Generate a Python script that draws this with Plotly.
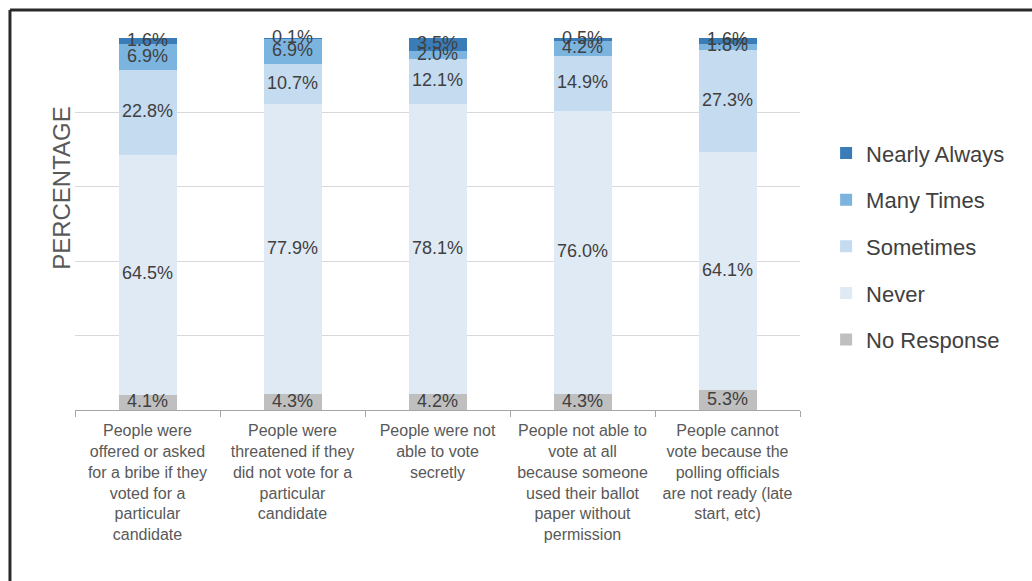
import numpy as np
import plotly.graph_objects as go

categories = [
    "People were<br>offered or asked<br>for a bribe if they<br>voted for a<br>particular<br>candidate",
    "People were<br>threatened if they<br>did not vote for a<br>particular<br>candidate",
    "People were not<br>able to vote<br>secretly",
    "People not able to<br>vote at all<br>because someone<br>used their ballot<br>paper without<br>permission",
    "People cannot<br>vote because the<br>polling officials<br>are not ready (late<br>start, etc)",
]

no_response = [4.1, 4.3, 4.2, 4.3, 5.3]
never = [64.5, 77.9, 78.1, 76.0, 64.1]
sometimes = [22.8, 10.7, 12.1, 14.9, 27.3]
many_times = [6.9, 6.9, 2.0, 4.2, 1.8]
nearly_always = [1.6, 0.1, 3.5, 0.5, 1.6]

series = [
    ("No Response", no_response, "#bfbfbf"),
    ("Never", never, "#e0eaf5"),
    ("Sometimes", sometimes, "#c4dbf0"),
    ("Many Times", many_times, "#7cb4e0"),
    ("Nearly Always", nearly_always, "#3a7cb8"),
]

fig = go.Figure()

base = np.zeros(len(categories))
label_x, label_y, label_t = [], [], []
for i, (name, vals, color) in enumerate(series):
    vals = np.array(vals, dtype=float)
    fig.add_trace(go.Bar(
        x=categories, y=vals, name=name, marker_color=color,
        marker_line_width=0, width=0.4, legendgroup=name,
        legendrank=1000 - i,
    ))
    mids = base + vals / 2
    for c, m, v in zip(categories, mids, vals):
        label_x.append(c)
        label_y.append(m)
        label_t.append(f"{v:.1f}%")
    base = base + vals

# percentage labels centred on each segment
fig.add_trace(go.Scatter(
    x=label_x, y=label_y, text=label_t, mode="text",
    textposition="middle center",
    textfont=dict(family="Liberation Sans, Arial", size=18, color="#404040"),
    showlegend=False, hoverinfo="skip", cliponaxis=False,
))

# frame lines along the top and left edge
frame = dict(color="#2a2a2a", width=3)
fig.add_shape(type="line", xref="paper", yref="paper",
              x0=-0.0897, x1=1.33, y0=1.0753, y1=1.0753, line=frame)
fig.add_shape(type="line", xref="paper", yref="paper",
              x0=-0.0897, x1=-0.0897, y0=1.0753, y1=-0.5, line=frame)

# vertical axis title
fig.add_annotation(
    text="PERCENTAGE", xref="paper", yref="paper", x=-0.018, y=0.597,
    xanchor="center", yanchor="middle", textangle=-90, showarrow=False,
    font=dict(family="Liberation Sans, Arial", size=24, color="#595959"),
)

fig.update_layout(
    barmode="stack",
    width=1032, height=581,
    margin=dict(l=75, r=232, t=38, b=171),
    paper_bgcolor="white", plot_bgcolor="white",
    font=dict(family="Liberation Sans, Arial", color="#595959"),
    legend=dict(
        traceorder="grouped", x=1.036, xanchor="left", y=0.44, yanchor="middle",
        font=dict(size=22, color="#404040"), tracegroupgap=15,
        itemwidth=30, bgcolor="rgba(0,0,0,0)",
    ),
    xaxis=dict(
        type="category", showline=True, linecolor="#a6a6a6", linewidth=1,
        ticks="outside", tickson="boundaries", ticklen=6, tickcolor="#a6a6a6",
        tickfont=dict(size=16, color="#595959"), showgrid=False,
        ticklabelstandoff=6, range=[-0.5, 4.5],
    ),
    yaxis=dict(
        range=[0, 100], dtick=20, showticklabels=False, showgrid=True,
        gridcolor="#d9d9d9", gridwidth=1, zeroline=False, showline=False,
    ),
)

fig.write_html("out.html")
